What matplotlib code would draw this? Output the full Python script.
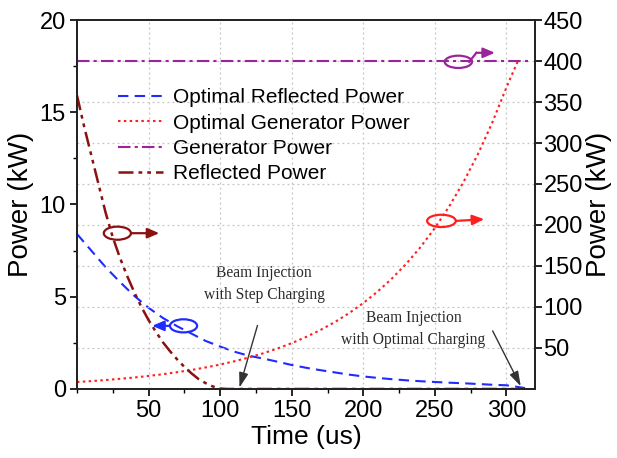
import matplotlib
matplotlib.use("Agg")
import matplotlib.pyplot as plt
from matplotlib.patches import Ellipse
from matplotlib.ticker import FixedLocator, MultipleLocator

# ---- data -------------------------------------------------------------
# Optimal generator power (kW, right axis)
t_gen_opt = [0, 10, 20, 30, 40, 50, 60, 70, 80, 90, 100, 110, 120, 130, 140,
             150, 160, 170, 180, 190, 200, 210, 220, 230, 240, 250, 260, 270,
             280, 290, 300, 308]
p_gen_opt = [8.5, 9.6, 10.9, 12.4, 14.0, 15.9, 18.0, 20.5, 23.2, 26.3, 29.8,
             33.8, 38.4, 43.5, 49.3, 55.9, 63.4, 71.9, 81.5, 92.4, 104.8,
             118.8, 134.7, 152.7, 173.1, 196.3, 222.6, 252.4, 286.1, 324.4,
             367.8, 400.0]

# Optimal reflected power (kW, left axis)
t_ref_opt = [0, 10, 20, 30, 40, 50, 60, 70, 80, 90, 100, 110, 120, 130, 140,
             150, 160, 170, 180, 190, 200, 210, 220, 230, 240, 250, 260, 270,
             280, 290, 300, 313]
p_ref_opt = [8.4, 7.5, 6.6, 5.8, 5.05, 4.4, 3.85, 3.4, 3.0, 2.6, 2.3, 2.02,
             1.8, 1.65, 1.48, 1.3, 1.15, 1.02, 0.9, 0.78, 0.68, 0.6, 0.53,
             0.47, 0.42, 0.38, 0.34, 0.31, 0.27, 0.23, 0.2, 0.05]

# Generator power with step charging (kW, right axis)
t_gen = [0, 315]
p_gen = [400, 400]

# Reflected power with step charging (kW, right axis)
t_ref = [0, 5, 10, 15, 20, 25, 30, 35, 40, 45, 50, 55, 60, 65, 70, 75, 80,
         85, 90, 95, 100, 105, 310]
p_ref = [358, 320, 285, 250, 215, 185, 160, 138, 118, 100, 84, 70, 57, 46,
         36, 27, 19, 12, 7, 3, 0.5, 0, 0]

x_ticks = [50, 100, 150, 200, 250, 300]
left_ticks = [0, 5, 10, 15, 20]
right_ticks = [50, 100, 150, 200, 250, 300, 350, 400, 450]

labels = ["Optimal Reflected Power", "Optimal Generator Power",
          "Generator Power", "Reflected Power"]

# ---- styling ----------------------------------------------------------
plt.rcParams["font.family"] = ["Liberation Sans", "DejaVu Sans"]
C_BLUE = "#1f2bff"
C_RED = "#ff1f1f"
C_PURPLE = "#9b249b"
C_DRED = "#8b1010"
C_GRID = "#c4c4c4"

fig = plt.figure(figsize=(6.17, 4.58), dpi=100)
ax = fig.add_axes([0.1248, 0.1507, 0.7424, 0.8056])
ax2 = ax.twinx()

ax.set_xlim(0, 320)
ax.set_ylim(0, 20)
ax2.set_ylim(0, 450)

# grid: vertical from x, horizontal from right axis
ax.set_axisbelow(True)
for xv in x_ticks:
    ax.axvline(xv, color=C_GRID, lw=0.9, ls=(0, (1.5, 2.5)), zorder=0)
for yv in right_ticks[:-1]:
    ax2.axhline(yv, color=C_GRID, lw=0.9, ls=(0, (1.5, 2.5)), zorder=0)

lw = 1.5
h1, = ax.plot(t_ref_opt, p_ref_opt, color=C_BLUE, lw=lw, ls=(0, (5, 3)))
h2, = ax2.plot(t_gen_opt, p_gen_opt, color=C_RED, lw=lw, ls=(0, (1.2, 1.6)))
h3, = ax2.plot(t_gen, p_gen, color=C_PURPLE, lw=lw,
               ls=(0, (6, 2, 1.5, 2)))
h4, = ax2.plot(t_ref, p_ref, color=C_DRED, lw=lw + 0.3,
               ls=(0, (6, 2, 1.5, 2, 1.5, 2)))

# ---- ticks ------------------------------------------------------------
ax.xaxis.set_major_locator(FixedLocator(x_ticks))
ax.xaxis.set_minor_locator(MultipleLocator(25))
ax.yaxis.set_major_locator(FixedLocator(left_ticks))
ax.yaxis.set_minor_locator(MultipleLocator(2.5))
ax2.yaxis.set_major_locator(FixedLocator(right_ticks))
ax2.yaxis.set_minor_locator(FixedLocator([]))

ax.tick_params(axis="both", which="major", direction="out", length=5,
               width=1.2, labelsize=17, pad=3)
ax.tick_params(axis="both", which="minor", direction="out", length=3,
               width=1.0)
ax.tick_params(axis="x", which="both", top=False)
ax.tick_params(axis="y", which="both", right=False)
ax2.tick_params(axis="y", which="major", direction="out", length=5,
                width=1.2, labelsize=17, pad=1)

for a in (ax, ax2):
    for s in a.spines.values():
        s.set_linewidth(1.3)
        s.set_color("#222222")

ax.set_xlabel("Time (us)", fontsize=19, labelpad=2)
ax.set_ylabel("Power (kW)", fontsize=20, labelpad=4)
ax2.set_ylabel("Power (kW)", fontsize=20, labelpad=2)

# ---- legend -----------------------------------------------------------
leg = ax.legend([h1, h2, h3, h4], labels, loc="upper left",
                bbox_to_anchor=(0.0714, 0.838), frameon=False, fontsize=15,
                handlelength=2.16, handletextpad=0.47, labelspacing=0.31,
                borderaxespad=0)

# ---- axis indicator marks (ellipse + arrow) ---------------------------
HEAD = "-|>,head_length=0.7,head_width=0.3"


def axis_mark(a, cx, cy, w, h, x0, x1, y1, color, knee=None):
    a.add_patch(Ellipse((cx, cy), w, h, fill=False, edgecolor=color,
                        lw=1.6, zorder=5))
    start = (x0, cy)
    if knee is not None:
        a.plot([x0, knee[0]], [cy, knee[1]], color=color, lw=1.6, zorder=5)
        start = knee
    a.annotate("", xy=(x1, y1), xytext=start,
               arrowprops=dict(arrowstyle=HEAD, color=color, lw=1.6,
                               shrinkA=0, shrinkB=0),
               zorder=5)


axis_mark(ax2, 28.2, 190, 19, 16, 37.7, 57.5, 190, C_DRED)
axis_mark(ax2, 74.4, 77, 19, 16, 65.0, 52.5, 77, C_BLUE)
axis_mark(ax2, 254.6, 205, 20, 15, 264.8, 284.5, 207, C_RED)
axis_mark(ax2, 266.4, 399, 19, 15, 274.0, 292.0, 410, C_PURPLE,
          knee=(279.0, 410))

# ---- annotations ------------------------------------------------------
serif = dict(family=["Liberation Serif", "DejaVu Serif"], fontsize=11.2,
             color="#2a2a2a", ha="center", va="center", linespacing=1.45)
ax.annotate("Beam Injection\nwith Step Charging", xy=(113.5, 0.08),
            xytext=(130.7, 5.69), textcoords="data", **serif,
            arrowprops=dict(arrowstyle="-|>,head_length=0.8,head_width=0.25",
                            color="#333333", lw=1.0, shrinkA=15, shrinkB=0,
                            relpos=(0.5, 0.0)))
ax.annotate("Beam Injection\nwith Optimal Charging", xy=(310, 0.15),
            xytext=(235, 3.25), textcoords="data", **serif,
            arrowprops=dict(arrowstyle="-|>,head_length=0.8,head_width=0.25",
                            color="#333333", lw=1.0, shrinkA=0, shrinkB=0,
                            relpos=(1.05, 0.45)))

fig.savefig("out.png", dpi=100)
